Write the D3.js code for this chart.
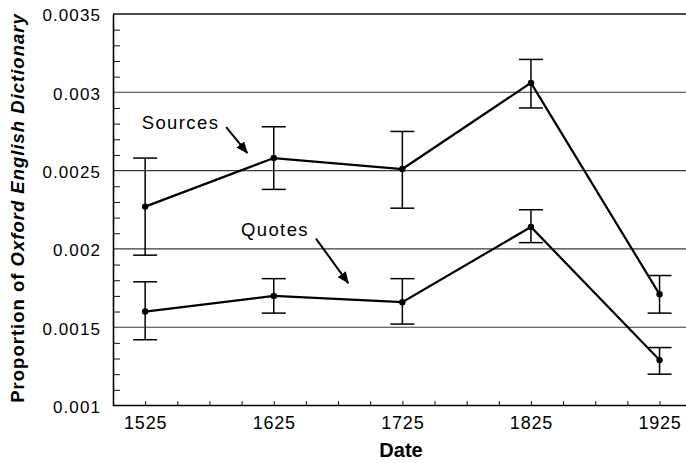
<!DOCTYPE html>
<html>
<head>
<meta charset="utf-8">
<script src="https://cdn.jsdelivr.net/npm/d3@7"></script>
<style>
  html, body { margin: 0; padding: 0; background: #fff; }
  svg { display: block; font-family: "Liberation Sans", Arial, sans-serif; }
</style>
</head>
<body>
<svg id="chart" width="686" height="463"></svg>
<script>
// Sampling dates (years)
const dates = [1525, 1625, 1725, 1825, 1925];

// Proportion of OED entries citing sources, with error-bar bounds
const sourcesValue = [0.00227, 0.00258, 0.00251, 0.00306, 0.00171];
const sourcesLow   = [0.00196, 0.00238, 0.00226, 0.00290, 0.00159];
const sourcesHigh  = [0.00258, 0.00278, 0.00275, 0.00321, 0.00183];

// Proportion of OED entries with quotes, with error-bar bounds
const quotesValue = [0.00160, 0.00170, 0.00166, 0.00214, 0.00129];
const quotesLow   = [0.00142, 0.00159, 0.00152, 0.00204, 0.00120];
const quotesHigh  = [0.00179, 0.00181, 0.00181, 0.00225, 0.00137];

// Axis ticks
const xMajorTicks = [1525, 1625, 1725, 1825, 1925];
const xMinorTicks = [1550, 1575, 1600, 1650, 1675, 1700, 1750, 1775, 1800, 1850, 1875, 1900];
const yMajorTicks = [0.001, 0.0015, 0.002, 0.0025, 0.003, 0.0035];
const yTickLabels = ["0.001", "0.0015", "0.002", "0.0025", "0.003", "0.0035"];

const svg = d3.select("#chart");
const W = 686;

const x = d3.scaleLinear().domain([1500, 1950]).range([113, 691.7]);
const y = d3.scaleLinear().domain([0.001, 0.0035]).range([405.5, 14]);

// Horizontal gridlines at the labelled values
svg.append("g").selectAll("line")
  .data(yMajorTicks.slice(1))
  .join("line")
  .attr("x1", x(1500)).attr("x2", W)
  .attr("y1", d => y(d)).attr("y2", d => y(d))
  .attr("stroke", d => d === 0.0035 ? "#111" : "#3a3a3a")
  .attr("stroke-width", d => d === 0.0035 ? 1.6 : 1.1);

// Minor y ticks every 0.0001, pointing into the plot
const yMinor = d3.range(11, 35).map(i => i / 10000).filter(v => Math.round(v * 10000) % 5 !== 0);
svg.append("g")
  .attr("transform", `translate(${x(1500)},0)`)
  .call(d3.axisLeft(y).tickValues(yMinor).tickSize(-7).tickFormat(""))
  .call(g => g.select(".domain").remove())
  .call(g => g.selectAll("line").attr("stroke", "#111").attr("stroke-width", 1));

// Y axis with value labels
svg.append("g")
  .attr("transform", `translate(${x(1500)},0)`)
  .call(d3.axisLeft(y).tickValues(yMajorTicks).tickSize(0).tickPadding(12)
        .tickFormat((d, i) => yTickLabels[i]))
  .call(g => g.select(".domain").attr("stroke", "#000").attr("stroke-width", 1.6))
  .call(g => g.selectAll("text")
        .attr("font-family", "Liberation Sans, Arial, sans-serif")
        .attr("font-size", 17).attr("fill", "#000")
        .attr("dy", "0.4em")
        .attr("letter-spacing", "1.1px"));

// X axis: minor ticks every 25 years, labels every century
svg.append("g")
  .attr("transform", `translate(0,${y(0.001)})`)
  .call(d3.axisBottom(x).tickValues(xMinorTicks).tickSize(-4.5).tickFormat(""))
  .call(g => g.select(".domain").remove())
  .call(g => g.selectAll("line").attr("stroke", "#111"));

svg.append("g")
  .attr("transform", `translate(0,${y(0.001)})`)
  .call(d3.axisBottom(x).tickValues(xMajorTicks).tickSize(-4.5).tickPadding(11)
        .tickFormat(d3.format("d")))
  .call(g => g.select(".domain").attr("d", `M${x(1500)},0H${W}`)
        .attr("stroke", "#000").attr("stroke-width", 1.6))
  .call(g => g.selectAll("line").attr("stroke", "#111"))
  .call(g => g.selectAll("text")
        .attr("font-family", "Liberation Sans, Arial, sans-serif")
        .attr("font-size", 18).attr("fill", "#000")
        .attr("letter-spacing", "0.8px"));

// Axis titles
svg.append("text")
  .attr("x", 401).attr("y", 457)
  .attr("text-anchor", "middle")
  .attr("font-size", 20).attr("font-weight", "bold")
  .text("Date");

const yTitle = svg.append("text")
  .attr("transform", "translate(24,208) rotate(-90)")
  .attr("text-anchor", "middle")
  .attr("font-size", 18.5).attr("font-weight", "bold")
  .attr("letter-spacing", "1px");
yTitle.append("tspan").text("Proportion of ");
yTitle.append("tspan").attr("font-style", "italic").text("Oxford English Dictionary");

// Series with error bars
const series = [
  { value: sourcesValue, low: sourcesLow, high: sourcesHigh },
  { value: quotesValue, low: quotesLow, high: quotesHigh }
];
const capHalf = 12;

series.forEach(s => {
  const pts = dates.map((d, i) => ({ d, v: s.value[i], lo: s.low[i], hi: s.high[i] }));
  const g = svg.append("g");

  const bars = g.append("g").attr("stroke", "#000").attr("stroke-width", 1.5).attr("fill", "none");
  bars.selectAll("line.stem").data(pts).join("line").attr("class", "stem")
    .attr("x1", p => x(p.d)).attr("x2", p => x(p.d))
    .attr("y1", p => y(p.lo)).attr("y2", p => y(p.hi));
  bars.selectAll("line.top").data(pts).join("line").attr("class", "top")
    .attr("x1", p => x(p.d) - capHalf).attr("x2", p => x(p.d) + capHalf)
    .attr("y1", p => y(p.hi)).attr("y2", p => y(p.hi));
  bars.selectAll("line.bot").data(pts).join("line").attr("class", "bot")
    .attr("x1", p => x(p.d) - capHalf).attr("x2", p => x(p.d) + capHalf)
    .attr("y1", p => y(p.lo)).attr("y2", p => y(p.lo));

  g.append("path")
    .datum(pts)
    .attr("fill", "none").attr("stroke", "#000").attr("stroke-width", 2.2)
    .attr("d", d3.line().x(p => x(p.d)).y(p => y(p.v)));

  g.selectAll("circle").data(pts).join("circle")
    .attr("cx", p => x(p.d)).attr("cy", p => y(p.v)).attr("r", 3.2)
    .attr("fill", "#000");
});

// Series labels with pointer arrows
svg.append("defs").append("marker")
  .attr("id", "arrowhead")
  .attr("viewBox", "0 0 12 10")
  .attr("refX", 11).attr("refY", 5)
  .attr("markerWidth", 12).attr("markerHeight", 10)
  .attr("markerUnits", "userSpaceOnUse")
  .attr("orient", "auto")
  .append("path").attr("d", "M0,0L12,5L0,10Z").attr("fill", "#000");

const labels = [
  { text: "Sources", tx: 1522.3, ty: 0.002763, from: [1588.0, 0.002777], to: [1604.4, 0.002613] },
  { text: "Quotes",  tx: 1599.5, ty: 0.002080, from: [1657.8, 0.002066], to: [1682.9, 0.001782] }
];

labels.forEach(l => {
  svg.append("text")
    .attr("x", x(l.tx)).attr("y", y(l.ty))
    .attr("font-size", 18.5).attr("letter-spacing", "1.4px")
    .text(l.text);
  svg.append("line")
    .attr("x1", x(l.from[0])).attr("y1", y(l.from[1]))
    .attr("x2", x(l.to[0])).attr("y2", y(l.to[1]))
    .attr("stroke", "#000").attr("stroke-width", 2)
    .attr("marker-end", "url(#arrowhead)");
});
</script>
</body>
</html>
